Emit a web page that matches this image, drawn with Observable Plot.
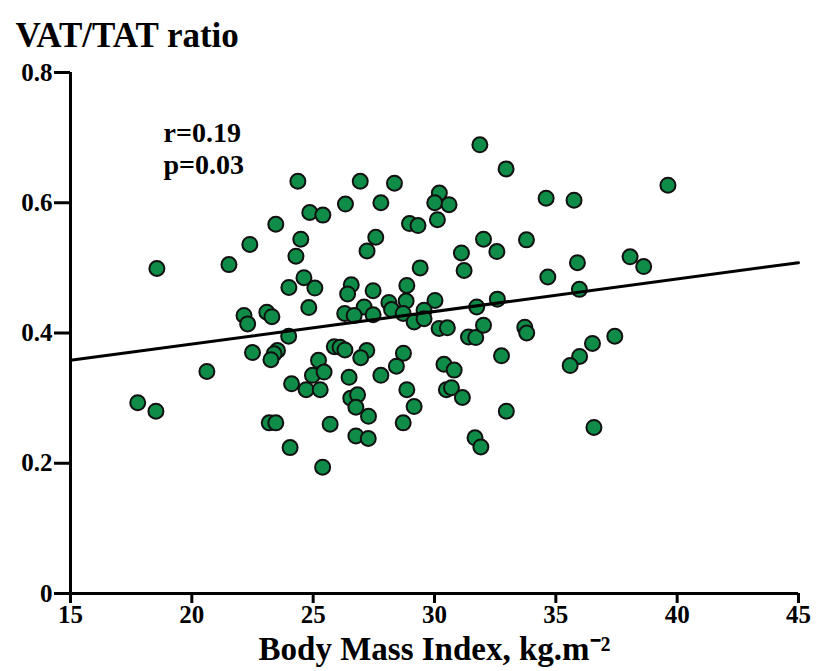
<!DOCTYPE html>
<html><head><meta charset="utf-8">
<script src="https://cdn.jsdelivr.net/npm/d3@7"></script>
<script src="https://cdn.jsdelivr.net/npm/@observablehq/plot@0.6"></script>
<style>body{margin:0;background:#fff} svg{font-family:"Liberation Serif",serif}</style>
</head><body><div id="chart"></div>
<script>
const bmi = [24.37,24.86,25.40,23.46,24.49,22.39,24.29,18.56,21.53,24.62,24.00,25.07,24.82,22.15,23.09,23.30,
31.87,32.95,26.94,28.35,34.60,26.33,27.79,30.20,30.01,30.60,28.97,29.32,30.12,27.58,27.22,32.02,33.79,32.57,31.11,31.22,29.41,34.67,
26.57,26.42,27.47,28.86,26.30,27.10,27.47,28.12,28.23,28.83,28.71,30.02,29.57,31.74,32.59,
35.75,39.62,35.89,38.06,38.62,35.97,
22.30,23.99,22.50,23.53,23.39,23.26,20.62,25.22,24.97,25.45,24.11,24.71,25.29,17.77,18.52,23.19,23.46,24.05,25.39,
26.69,29.16,29.57,30.19,30.53,31.40,31.70,32.02,33.72,33.80,25.87,26.11,26.31,27.21,26.96,28.72,26.48,27.79,28.43,30.39,30.81,32.76,
26.55,26.83,26.76,27.28,28.86,29.16,30.49,30.70,31.15,28.71,25.70,26.76,27.27,32.96,31.67,31.91,
36.51,37.43,35.98,35.59,36.57];
const ratio = [0.633,0.585,0.581,0.567,0.544,0.536,0.518,0.499,0.505,0.485,0.470,0.469,0.439,0.427,0.432,0.425,
0.689,0.652,0.633,0.630,0.607,0.598,0.600,0.615,0.600,0.597,0.568,0.565,0.574,0.547,0.526,0.544,0.543,0.525,0.523,0.496,0.500,0.486,
0.474,0.460,0.465,0.473,0.430,0.440,0.428,0.447,0.436,0.449,0.430,0.450,0.435,0.440,0.452,
0.604,0.627,0.508,0.517,0.502,0.467,
0.414,0.395,0.370,0.373,0.368,0.359,0.341,0.358,0.335,0.340,0.322,0.313,0.313,0.293,0.280,0.262,0.262,0.224,0.194,
0.427,0.417,0.422,0.407,0.408,0.394,0.393,0.412,0.409,0.400,0.379,0.378,0.374,0.373,0.362,0.369,0.332,0.335,0.349,0.352,0.343,0.365,
0.300,0.305,0.286,0.272,0.313,0.287,0.313,0.316,0.301,0.262,0.260,0.242,0.238,0.280,0.239,0.225,
0.384,0.395,0.364,0.350,0.255];
const fitBmi = [15, 45];
const fitRatio = [0.358, 0.508];
const xTicks = [15, 20, 25, 30, 35, 40, 45];
const yTicks = [0, 0.2, 0.4, 0.6, 0.8];
const statR = "r=0.19";
const statP = "p=0.03";
const title = "VAT/TAT ratio";
const xLabel = "Body Mass Index, kg.m\u207B\u00B2";

const points = bmi.map((b, i) => ({bmi: b, ratio: ratio[i]}));
const fit = fitBmi.map((b, i) => ({bmi: b, ratio: fitRatio[i]}));

const chart = Plot.plot({
  width: 816, height: 671,
  marginLeft: 70, marginRight: 18, marginTop: 72, marginBottom: 78,
  style: {fontFamily: "Liberation Serif", background: "#fff", color: "#000"},
  x: {domain: [15, 45]},
  y: {domain: [0, 0.8]},
  marks: [
    Plot.dot(points, {x: "bmi", y: "ratio", r: 7.5, fill: "#0f8c47", stroke: "#111", strokeWidth: 2}),
    Plot.line(fit, {x: "bmi", y: "ratio", stroke: "#000", strokeWidth: 3}),
    Plot.ruleX([15], {y1: 0, y2: 0.8, stroke: "#000", strokeWidth: 3}),
    Plot.ruleY([0], {x1: 15, x2: 45, stroke: "#000", strokeWidth: 3}),
    Plot.axisX({ticks: xTicks, tickSize: 10, tickPadding: 2, strokeWidth: 3, fontSize: 25, fontWeight: "bold", label: null, tickFormat: d => String(d)}),
    Plot.axisY({ticks: yTicks, tickSize: 16, tickPadding: 2, strokeWidth: 3, fontSize: 25, fontWeight: "bold", label: null, tickFormat: d => d === 0 ? "0" : d.toFixed(1)}),
    Plot.text([title], {frameAnchor: "top-left", dx: -55, dy: -37, text: d => d, fontSize: 35, fontWeight: "bold", textAnchor: "start", lineAnchor: "middle"}),
    Plot.text([statR], {frameAnchor: "top-left", dx: 93, dy: 61, text: d => d, fontSize: 28, fontWeight: "bold", textAnchor: "start", lineAnchor: "middle"}),
    Plot.text([statP], {frameAnchor: "top-left", dx: 93, dy: 93, text: d => d, fontSize: 28, fontWeight: "bold", textAnchor: "start", lineAnchor: "middle"}),
    Plot.text([xLabel], {frameAnchor: "bottom", dy: 56, text: d => d, fontSize: 33, fontWeight: "bold", lineAnchor: "middle"})
  ]
});
document.getElementById("chart").append(chart);
</script>
</body></html>
